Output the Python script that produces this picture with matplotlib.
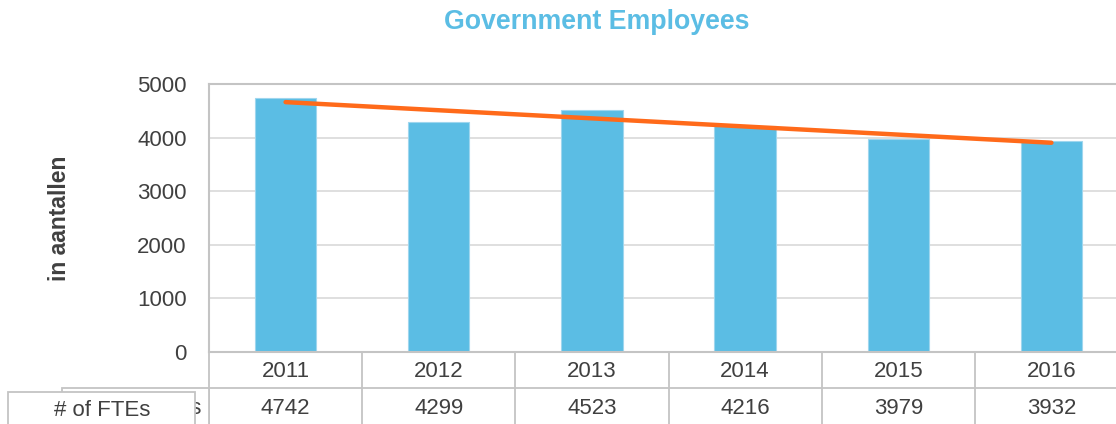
import matplotlib.pyplot as plt
from matplotlib.patches import Rectangle

years = ["2011", "2012", "2013", "2014", "2015", "2016"]
ftes = [4742, 4299, 4523, 4216, 3979, 3932]
# linear trendline end points
trend_x = [0, 5]
trend_y = [4662, 3904]
yticks = [0, 1000, 2000, 3000, 4000, 5000]
row_label = "# of FTEs"

W, H = 1116, 424
BAR = "#5bbde4"
ORANGE = "#ff6a1a"
GRID = "#d9d9d9"
FRAME = "#c4c4c4"
TXT = "#404040"
FS = 16

plt.rcParams["font.family"] = ["Liberation Sans", "DejaVu Sans"]

fig = plt.figure(figsize=(W / 100, H / 100), dpi=100)


def px(x0, y0, x1, y1):
    """Figure-fraction rect from pixel box (top-left origin)."""
    return [x0 / W, 1 - y1 / H, (x1 - x0) / W, (y1 - y0) / H]


# main chart
ax = fig.add_axes(px(209, 84, 1128, 352))
x = range(len(years))
ax.bar(x, ftes, width=0.4, color=BAR, edgecolor="#9fd6ee", linewidth=0.8, zorder=2)
ax.plot(trend_x, trend_y, color=ORANGE, linewidth=3.2, solid_capstyle="round", zorder=3)
ax.set_xlim(-0.5, len(years) - 0.5)
ax.set_ylim(0, 5000)
ax.set_yticks(yticks)
ax.set_yticklabels([str(v) for v in yticks], fontsize=FS, color=TXT)
ax.tick_params(axis="y", length=0, pad=16)
ax.set_xticks([])
ax.grid(axis="y", color=GRID, linewidth=1.2, zorder=0)
for s in ax.spines.values():
    s.set_color(FRAME)
    s.set_linewidth(1.5)

# data table below the chart
tab = fig.add_axes(px(209, 352, 1128, 424))
tab.set_xlim(-0.5, len(years) - 0.5)
tab.set_ylim(2, 0)
tab.axis("off")
for k in range(len(years) + 1):
    tab.plot([k - 0.5, k - 0.5], [0, 2], color=FRAME, linewidth=1.3, clip_on=False)
tab.plot([-0.5, len(years) - 0.5], [1, 1], color=FRAME, linewidth=1.3, clip_on=False)
for i, (yr, v) in enumerate(zip(years, ftes)):
    tab.text(i, 0.55, yr, ha="center", va="center", fontsize=FS, color=TXT)
    tab.text(i, 1.58, str(v), ha="center", va="center", fontsize=FS, color=TXT)

# overlapping row-label boxes (back one mostly hidden by the front one)
back = Rectangle(px(62, 388, 209, 430)[:2], 147 / W, 42 / H, transform=fig.transFigure,
                 facecolor="white", edgecolor=FRAME, linewidth=1.3, zorder=4)
fig.add_artist(back)
fig.text(201 / W, 1 - 409 / H, row_label, ha="right", va="center", fontsize=FS,
         color=TXT, zorder=5)
front = Rectangle(px(8, 392, 195, 430)[:2], 187 / W, 38 / H, transform=fig.transFigure,
                  facecolor="white", edgecolor=FRAME, linewidth=1.3, zorder=6)
fig.add_artist(front)
fig.text(102 / W, 1 - 410 / H, row_label, ha="center", va="center", fontsize=FS,
         color=TXT, zorder=7)

fig.text(60 / W, 1 - 218 / H, "in aantallen", rotation=90, ha="center", va="center",
         fontsize=16.5, fontweight="bold", color=TXT)
fig.text(597 / W, 1 - 22 / H, "Government Employees", ha="center", va="center",
         fontsize=19.3, fontweight="bold", color=BAR)

fig.savefig("out.png", dpi=100)
